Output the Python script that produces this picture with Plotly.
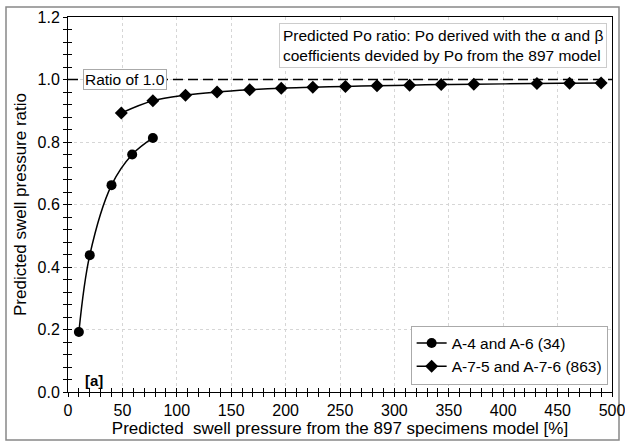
import plotly.graph_objects as go

# Data
s1_name = "A-4 and A-6 (34)"
s1_x = [10, 20, 40, 59, 78]
s1_y = [0.192, 0.438, 0.662, 0.760, 0.813]

s2_name = "A-7-5 and A-7-6 (863)"
s2_x = [49, 78, 108, 137, 167, 196, 225, 255, 284, 314, 343, 373, 431, 461, 490]
s2_y = [0.893, 0.932, 0.950, 0.960, 0.967, 0.972, 0.975, 0.978, 0.980, 0.982, 0.984, 0.985, 0.987, 0.988, 0.989]

ref_x = [0, 500]
ref_y = [1.0, 1.0]

x_ticks = [0, 50, 100, 150, 200, 250, 300, 350, 400, 450, 500]
y_ticks = [0.0, 0.2, 0.4, 0.6, 0.8, 1.0, 1.2]

FONT = "Liberation Sans, Arial, sans-serif"

fig = go.Figure()
fig.add_trace(go.Scatter(x=ref_x, y=ref_y, mode="lines", showlegend=False,
                         line=dict(color="black", width=1.5, dash="10px,5px")))
fig.add_trace(go.Scatter(x=s1_x, y=s1_y, name=s1_name, mode="lines+markers",
                         line=dict(color="black", width=1.5, shape="spline"),
                         marker=dict(symbol="circle", size=10, color="black")))
fig.add_trace(go.Scatter(x=s2_x, y=s2_y, name=s2_name, mode="lines+markers",
                         line=dict(color="black", width=1.5, shape="spline"),
                         marker=dict(symbol="diamond", size=10, color="black")))

axis_common = dict(showline=True, linecolor="black", linewidth=1, mirror=True,
                   ticks="outside", ticklen=4, tickcolor="black", tickwidth=1,
                   showgrid=True, gridcolor="#d6d6d6", griddash="dot", gridwidth=1,
                   zeroline=False, ticklabeloverflow="allow", automargin=False,
                   tickfont=dict(size=16, color="black", family=FONT))

fig.update_layout(
    width=625, height=443,
    margin=dict(l=68, r=13, t=17, b=51),
    paper_bgcolor="white", plot_bgcolor="white",
    font=dict(family=FONT, color="black", size=15),
    xaxis=dict(range=[0, 500], tickvals=x_ticks, ticktext=[str(v) for v in x_ticks],
               minor=dict(dtick=10, ticks="outside", ticklen=4, tickcolor="black", showgrid=False),
               title=dict(text="Predicted  swell pressure from the 897 specimens model [%]",
                          font=dict(size=17), standoff=2),
               **axis_common),
    yaxis=dict(range=[0, 1.2], tickvals=y_ticks, ticktext=[f"{v:.1f}" for v in y_ticks],
               minor=dict(dtick=0.04, ticks="outside", ticklen=4, tickcolor="black", showgrid=False),
               title=dict(text="Predicted swell pressure ratio", font=dict(size=17), standoff=6),
               **axis_common),
    xaxis2=dict(overlaying="x", matches="x", range=[0, 500], tickvals=x_ticks, ticks="inside",
                ticklen=4, tickcolor="black", showticklabels=False, showgrid=False, showline=False,
                minor=dict(dtick=10, ticks="inside", ticklen=4, tickcolor="black"),
                zeroline=False, automargin=False),
    yaxis2=dict(overlaying="y", matches="y", range=[0, 1.2], tickvals=y_ticks, ticks="inside",
                ticklen=4, tickcolor="black", showticklabels=False, showgrid=False, showline=False,
                minor=dict(dtick=0.04, ticks="inside", ticklen=4, tickcolor="black"),
                zeroline=False, automargin=False),
    legend=dict(x=0.992, y=0.02, xanchor="right", yanchor="bottom",
                bgcolor="white", bordercolor="#aaaaaa", borderwidth=1,
                font=dict(size=15.5), itemwidth=30, tracegroupgap=0),
    showlegend=True,
)

# dummy invisible trace to activate overlay axes
fig.add_trace(go.Scatter(x=[None], y=[None], xaxis="x2", yaxis="y2", showlegend=False,
                         hoverinfo="skip"))

fig.add_annotation(x=0.027, y=1.0, xref="paper", yref="y", xanchor="left", yanchor="middle",
                   text="Ratio of 1.0", showarrow=False, font=dict(size=15.5),
                   bgcolor="white", bordercolor="#aaaaaa", borderwidth=1, borderpad=1)
fig.add_annotation(x=0.99, y=0.985, xref="paper", yref="paper", xanchor="right", yanchor="top",
                   text="Predicted Po ratio: Po derived with the α and β<br>coefficients devided by Po from the 897 model",
                   showarrow=False, font=dict(size=15.5), align="left",
                   bgcolor="white", bordercolor="#cccccc", borderwidth=1, borderpad=3)
fig.add_annotation(x=0.027, y=0.0, xref="paper", yref="paper", xanchor="left", yanchor="bottom",
                   text="<b>[a]</b>", showarrow=False, font=dict(size=15), yshift=1)

# outer figure border
fig.add_shape(type="rect", xref="paper", yref="paper",
              x0=(6 - 68) / 544, x1=(619 - 68) / 544,
              y0=-(440 - 392) / 375, y1=1 + (17 - 7) / 375,
              line=dict(color="#888888", width=1.5), fillcolor="rgba(0,0,0,0)", layer="below")

fig.write_html("out.html")
